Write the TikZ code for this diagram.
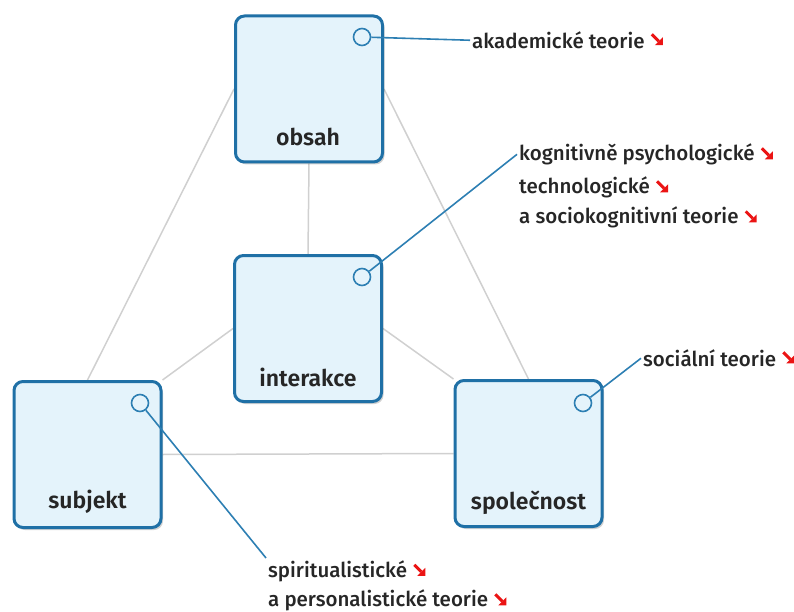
\documentclass[tikz,border=0pt]{standalone}
\usepackage{fontspec}
\setmainfont{Fira Sans}
\newfontfamily\annfont{Fira Sans Medium}
\newfontfamily\boxfont{Fira Sans SemiBold}
\usetikzlibrary{shadows,backgrounds}
\definecolor{boxblue}{RGB}{31,112,166}
\definecolor{boxfill}{RGB}{228,243,251}
\definecolor{linkblue}{RGB}{45,127,179}
\definecolor{greyline}{RGB}{208,208,208}
\definecolor{iconred}{RGB}{235,20,20}
\tikzset{
  mbox/.style={draw=boxblue, line width=3pt, fill=boxfill, rounded corners=9pt,
    minimum width=147pt, minimum height=146pt, inner sep=0pt,
    drop shadow={shadow xshift=2pt, shadow yshift=-2.5pt, fill=black, opacity=0.18}},
  mlabel/.style={font=\boxfont\fontsize{23}{27}\selectfont, text=black!85, anchor=center, inner sep=0pt},
  ring/.style={circle, draw=linkblue, line width=1.6pt, fill=boxfill, minimum size=17pt, inner sep=0pt},
  ann/.style={font=\annfont\fontsize{20.5}{25}\selectfont, text=black!85, anchor=base west, inner sep=2pt},
  link/.style={draw=linkblue, line width=1.6pt},
  grey/.style={draw=greyline, line width=1.5pt},
  redarrow/.pic={
    \draw[iconred, line width=3pt] (-5,-5) -- (2,2);
    \fill[iconred] (6,-2) -- (6,6) -- (-2,6) -- cycle;
  }
}
\begin{document}
\begin{tikzpicture}[x=1pt,y=-1pt]
\useasboundingbox (0,0) rectangle (794,612);
% boxes
\node[mbox] (obsah) at (309,89) {};
\node[mbox] (interakce) at (308,328.5) {};
\node[mbox] (subjekt) at (87.5,454.5) {};
\node[mbox] (spolecnost) at (528.5,453.5) {};
\begin{scope}[on background layer]
\draw[grey] (obsah.west) -- (subjekt.north);
\draw[grey] (obsah.east) -- (spolecnost.north);
\draw[grey] (obsah.south) -- (interakce.north);
\draw[grey] (interakce.west) -- (subjekt.north east);
\draw[grey] (interakce.east) -- (spolecnost.north west);
\draw[grey] (subjekt.east) -- (spolecnost.west);
\end{scope}
% labels
\node[mlabel] (lobsah) at (308,137) {obsah};
\node[mlabel] (linterakce) at (308,377) {interakce};
\node[mlabel] (lsubjekt) at (87.5,502) {subjekt};
\node[mlabel] (lspolecnost) at (528.5,503) {společnost};
% rings
\node[ring] (r1) at (362,37) {};
\node[ring] (r2) at (362,277) {};
\node[ring] (r3) at (140,403) {};
\node[ring] (r4) at (583,403) {};
% annotations
\node[ann] (a1) at (470,48.5) {akademické teorie};
\node[ann] (b1) at (517,160.5) {kognitivně psychologické};
\node[ann] (b2) at (517,193.5) {technologické};
\node[ann] (b3) at (517,223.5) {a sociokognitivní teorie};
\node[ann] (c1) at (641,366.5) {sociální teorie};
\node[ann] (d1) at (266,577) {spiritualistické};
\node[ann] (d2) at (266,606.5) {a personalistické teorie};
% icons
\foreach \n in {a1,b1,b2,b3,c1,d1,d2}
  \pic at ([xshift=10pt,yshift=1pt]\n.east) {redarrow};
% connectors
\draw[link] (r1) -- (a1.west);
\draw[link] (r2) -- (b1.west);
\draw[link] (r4) -- (c1.west);
\draw[link] (r3) -- (d1.north west);
\end{tikzpicture}
\end{document}
